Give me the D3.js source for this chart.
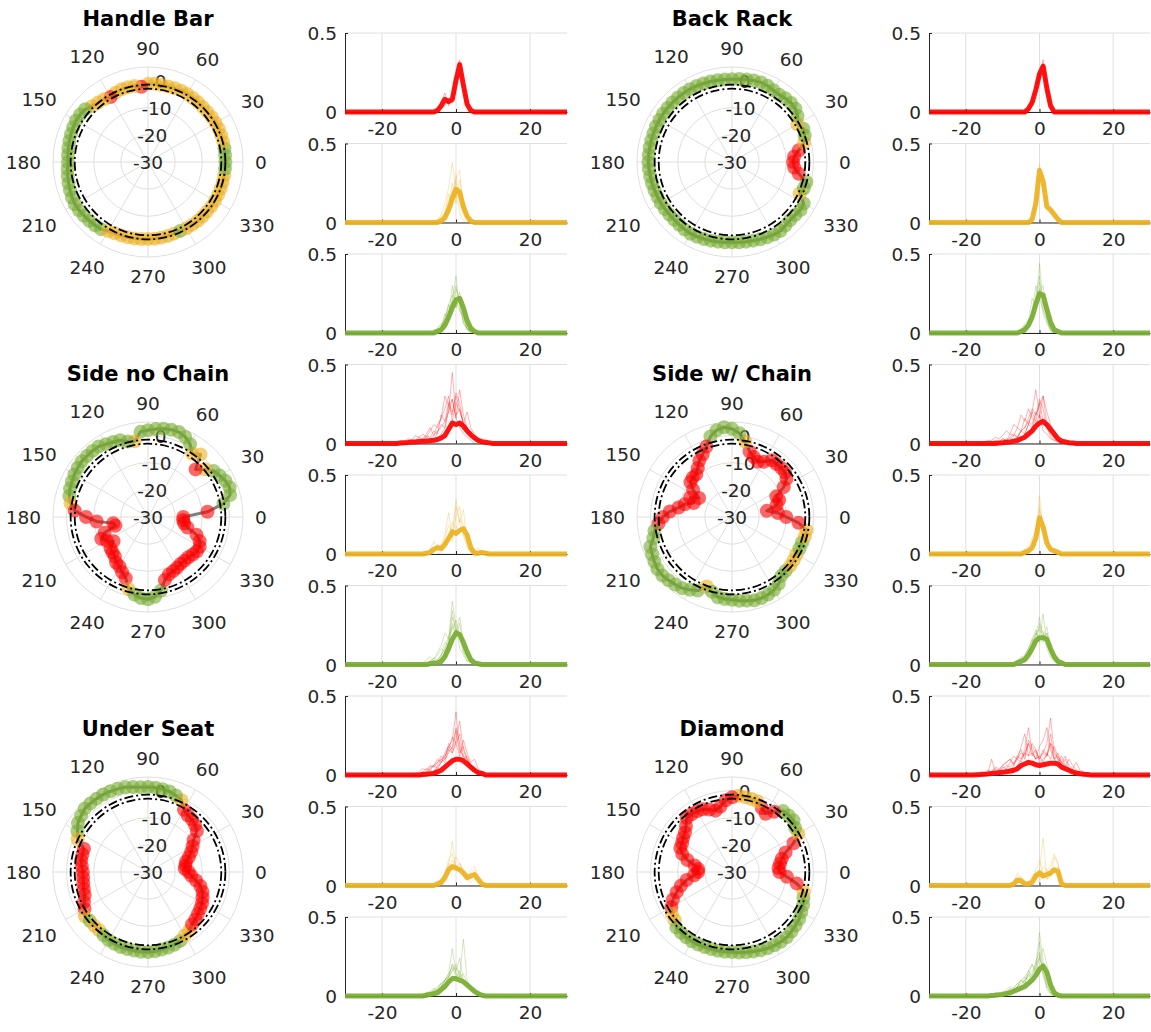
<!DOCTYPE html>
<html><head><meta charset="utf-8">
<script src="https://cdn.jsdelivr.net/npm/d3@7"></script>
<style>body{margin:0;background:#fff}svg{display:block}text{font-family:"DejaVu Sans",sans-serif}</style>
</head><body><svg id="c" width="1151" height="1032"></svg>
<script>
// ---------------- data ----------------
const titles = ["Handle Bar","Back Rack","Side no Chain","Side w/ Chain","Under Seat","Diamond"];
const angles = [0,5,10,15,20,25,30,35,40,45,50,55,60,65,70,75,80,85,90,95,100,105,110,115,120,125,130,135,140,145,150,155,160,165,170,175,180,185,190,195,200,205,210,215,220,225,230,235,240,245,250,255,260,265,270,275,280,285,290,295,300,305,310,315,320,325,330,335,340,345,350,355];
const angleTicks = [0,30,60,90,120,150,180,210,240,270,300,330];
const ringTicks = [-30,-20,-10,0];
const refLevels = [-3,-1.5];
const histXTicks = [-20,0,20];
const histYTicks = [0,0.5];
const classKeys = ["r","y","g"];
const classColors = {r:"#ff0000", y:"#edb120", g:"#77ac30"};

const handleBarDb = [-1.5,-1.5,-1.4,-1.3,-1.3,-1.2,-1.2,-1.3,-1.4,-1.4,
 -1.3,-1.2,-1.1,-1.0,-1.1,-1.2,-1.2,-1.1,-1.2,-2.2,
 -1.6,-1.5,-1.5,-1.8,-2.4,-1.8,-1.4,-0.9,0.2,0.5,
 0.6,0.4,0.2,0.0,-0.2,-0.4,-0.5,-0.3,0.0,0.3,
 0.6,0.9,1.1,1.0,0.8,0.6,0.4,0.2,-0.6,-1.0,
 -1.2,-1.3,-1.4,-1.5,-1.6,-1.6,-1.7,-1.8,-1.9,-2.0,
 -1.8,-1.7,-1.6,-1.6,-1.6,-1.5,-1.5,-1.5,-1.5,-1.5,
 -1.5,-1.5];
const handleBarCls = "ggg"+"yyyyyyyyyyyyyyyy"+"r"+"yyyy"+"r"+"yyy"+"gggggggggggggggggggg"+"yyyyyyyyyyy"+"g"+"yyyyyyyyyyy"+"g";

const backRackDb = [-7.5,-7.0,-5.0,-2.5,-1.5,-1.0,-2.2,-0.5,0.5,0.8,
 0.6,0.3,0.5,1.0,1.2,1.1,0.9,0.7,0.5,0.5,
 0.6,0.7,0.8,0.9,1.0,1.0,1.0,1.0,1.0,1.0,
 0.9,0.9,0.8,0.8,0.8,0.8,0.8,0.7,0.6,0.5,
 0.4,0.3,0.3,0.2,0.1,0.1,0.2,0.4,0.5,0.4,
 0.2,0.0,-0.2,-0.3,-0.4,-0.3,-0.2,0.0,0.3,0.6,
 0.9,1.0,0.6,0.3,0.4,0.8,0.5,-2.5,-1.8,-1.6,
 -5.0,-7.0];
const backRackCls = "rrr"+"y"+"gg"+"y"+"gggggggggggggggggggggggggggggggggggggggggggggggggggggggggggg"+"y"+"gg"+"rr";

const sideNoChainDb = [-17,-8,-1.8,1.3,2.0,1.5,0.5,-0.5,-2.6,-5.2,
 0.1,-1.6,1.0,2.5,3.3,3.3,3.0,2.5,2.0,1.5,
 -1.7,-1.2,0.1,0.5,1.0,1.7,1.8,1.8,1.9,1.6,
 1.3,0.9,0.6,0.0,-1.0,-2.9,-7.2,-11,-17,-17.5,
 -13,-11,-12.5,-14.5,-12,-11.5,-11,-9.5,-9,-7.5,
 -6,-2.5,-1.0,0.0,0.3,-0.5,-2.5,-6,-7.5,-8,
 -8.5,-9,-9,-9,-8.5,-8,-8,-9,-11,-15,
 -16.5,-17];
const sideNoChainCls = "rr"+"gggggg"+"y"+"r"+"yy"+"gggggggg"+"y"+"ggggggggggggg"+"y"+"rrrrrrrrrrrrrrrr"+"y"+"ggggg"+"rrrrrrrrrrrrrrr";

const sideChainDb = [-10,-13,-17,-13,-11.5,-12,-8,-5.5,-4.5,-4.4,
 -4.5,-4.5,-6.5,-7.5,-6.5,-5,-1.8,1,2.5,3.2,
 2.5,0.7,-2.4,-4.5,-6,-8,-9.5,-9.5,-10,-12.5,
 -16,-13,-15,-12,-10,-7,-4.5,-2.8,-1,0,
 2,2.5,3,3.5,3.5,3,2.5,2,1,-0.1,
 -2.8,-1.5,0,0.3,0.5,1,1.3,1.8,1.8,1.5,
 1,0,-1.7,-2,-2,-2.3,-2.6,-2.6,-2.6,-2.3,
 -2.1,-5.4];
const sideChainCls = "rrrrrrrrrrrrrrrr"+"y"+"ggggg"+"rrrrrrrrrrrrrrrr"+"gggggggggggg"+"y"+"ggggggggggggg"+"yyy"+"gg"+"yy"+"r";

const underSeatDb = [-15,-16.4,-16,-15.5,-14,-12.5,-11,-9.5,-6.5,-5.5,
 -4.8,-4.5,-3.5,-0.8,0,0.7,1,1.2,1.3,1.3,
 1.8,2.3,2.6,2.8,3,3,3,3,2.2,1.5,
 0,-1.4,-4.9,-5,-5,-5.5,-6,-6,-5.8,-5.5,
 -5.2,-4,-3,-1.6,-2,-2,-2,-1.5,-1,-0.8,
 -0.6,-0.6,-0.6,-0.5,-0.5,-0.7,-1,-1.2,-1.5,-2,
 -3,-3.6,-4.8,-5.3,-6,-6.5,-7,-7.8,-8.6,-10,
 -12,-14];
const underSeatCls = "rrrrrrrrrrrrr"+"y"+"ggggggggggggggggg"+"y"+"rrrrrrrrrrr"+"y"+"g"+"yy"+"ggggggggggggg"+"yy"+"rrrrrrrrrr";

const diamondDb = [-12.5,-12.8,-12,-11,-9,-5,-1.8,-1.6,-0.4,-0.5,
 -0.7,-2.9,-5.2,-4,-2.4,-2.2,-2,-1.8,-2.5,-3.5,
 -5.5,-6.6,-5.5,-4.5,-4.2,-4,-4,-6,-7.4,-8,
 -8.8,-9,-10.5,-13,-16,-17.5,-17.5,-16,-13,-10.5,
 -8.3,-6,-4.2,-3,-2.5,-1,-0.8,-0.6,-0.5,-0.5,
 -0.6,-0.6,-0.5,-0.5,-0.5,-0.2,0,0.3,0.7,1,
 1.2,1.4,1.4,1,0.6,0.2,-0.5,-1.1,-2,-2.7,
 -5.8,-9.7];
const diamondCls = "rrrrrr"+"y"+"gggg"+"rrr"+"yyyy"+"rrrrrrrrrrrrrrrrrrrrrrrrr"+"yy"+"gggggggggggggggggggggggg"+"y"+"rr";

// histogram mean curves (s = first x value, v = values at x = s, s+1, ...)
const hbRedMean = {s:-6, v:[0,0.01,0.04,0.08,0.065,0.08,0.2,0.3,0.17,0.05,0.01,0]};
const hbYelMean = {s:-5, v:[0,0.01,0.03,0.08,0.15,0.21,0.19,0.1,0.04,0.01,0]};
const hbGrnMean = {s:-6, v:[0,0.01,0.02,0.05,0.1,0.16,0.21,0.22,0.16,0.08,0.03,0.01,0]};
const brRedMean = {s:-4, v:[0,0.02,0.06,0.14,0.24,0.29,0.15,0.04,0]};
const brYelMean = {s:-3, v:[0,0.02,0.12,0.33,0.26,0.1,0.08,0.05,0.02,0]};
const brGrnMean = {s:-6, v:[0,0.01,0.02,0.05,0.1,0.18,0.25,0.24,0.15,0.07,0.02,0.01,0]};
const sncRedMean = {s:-16, v:[0,0.003,0.005,0.007,0.01,0.01,0.012,0.014,0.016,0.018,0.02,0.025,0.035,0.05,0.09,0.13,0.12,0.13,0.11,0.08,0.055,0.035,0.02,0.012,0.008,0.004,0]};
const sncYelMean = {s:-9, v:[0,0.005,0.01,0.03,0.04,0.035,0.06,0.1,0.14,0.13,0.15,0.16,0.12,0.04,0.005,0.005,0.01,0.005,0]};
const sncGrnMean = {s:-8, v:[0,0.005,0.01,0.01,0.02,0.05,0.1,0.16,0.2,0.19,0.14,0.08,0.03,0.01,0.005,0]};
const swcRedMean = {s:-12, v:[0,0.003,0.005,0.008,0.01,0.015,0.02,0.03,0.04,0.06,0.08,0.11,0.13,0.14,0.12,0.09,0.06,0.03,0.015,0.01,0.005,0.003,0]};
const swcYelMean = {s:-5, v:[0,0.01,0.02,0.04,0.1,0.23,0.17,0.07,0.03,0.02,0.01,0]};
const swcGrnMean = {s:-7, v:[0,0.01,0.02,0.03,0.06,0.1,0.15,0.17,0.17,0.16,0.1,0.05,0.02,0.01,0]};
const usRedMean = {s:-10, v:[0,0.003,0.005,0.008,0.01,0.02,0.03,0.05,0.07,0.09,0.1,0.1,0.09,0.07,0.05,0.03,0.015,0.01,0]};
const usYelMean = {s:-6, v:[0,0.01,0.02,0.05,0.1,0.12,0.11,0.1,0.08,0.05,0.06,0.07,0.04,0.01,0]};
const usGrnMean = {s:-9, v:[0,0.005,0.01,0.015,0.02,0.04,0.06,0.09,0.11,0.11,0.1,0.09,0.07,0.05,0.03,0.015,0.005,0]};
const dRedMean = {s:-18, v:[0,0.002,0.003,0.005,0.007,0.01,0.012,0.015,0.018,0.02,0.025,0.03,0.04,0.06,0.07,0.08,0.075,0.065,0.06,0.065,0.07,0.075,0.075,0.07,0.05,0.04,0.03,0.02,0.012,0.008,0.005,0.003,0]};
const dYelMean = {s:-8, v:[0,0.01,0.035,0.03,0.01,0.01,0.02,0.06,0.08,0.06,0.07,0.08,0.1,0.09,0.01,0]};
const dGrnMean = {s:-14, v:[0,0.003,0.005,0.008,0.01,0.015,0.02,0.03,0.04,0.05,0.06,0.08,0.1,0.13,0.17,0.19,0.15,0.07,0.02,0.005,0]};

// a few of the individual (thin) curves per panel
const hbRedThin = [
 {s:-5,v:[0,0.07,0.12,0.04,0.1,0.24,0.33,0.15,0.03,0]},
 {s:-5,v:[0.02,0.02,0.04,0.09,0.06,0.16,0.27,0.19,0.07,0.01]}];
const hbYelThin = [
 {s:-6,v:[0,0.02,0.05,0.12,0.22,0.38,0.2,0.06,0.01,0.01,0]},
 {s:-5,v:[0.01,0.03,0.06,0.18,0.1,0.3,0.15,0.08,0.02,0]},
 {s:-6,v:[0.01,0.02,0.04,0.06,0.14,0.2,0.26,0.12,0.05,0.02,0]},
 {s:-4,v:[0,0.04,0.1,0.14,0.28,0.33,0.07,0.03,0]},
 {s:-4,v:[0.02,0.05,0.09,0.2,0.16,0.22,0.1,0.04,0]},
 {s:-5,v:[0,0.01,0.02,0.1,0.25,0.12,0.27,0.14,0.03,0]}];
const hbGrnThin = [
 {s:-7,v:[0,0.01,0.03,0.05,0.09,0.16,0.2,0.3,0.18,0.06,0.03,0.01,0]},
 {s:-6,v:[0.02,0.02,0.04,0.12,0.08,0.22,0.36,0.14,0.1,0.02,0.01,0]},
 {s:-6,v:[0,0.03,0.06,0.05,0.14,0.2,0.16,0.26,0.12,0.04,0.02,0]},
 {s:-5,v:[0.01,0.03,0.08,0.18,0.12,0.28,0.2,0.06,0.03,0]},
 {s:-7,v:[0,0.02,0.01,0.04,0.1,0.18,0.24,0.2,0.14,0.1,0.03,0.01,0]},
 {s:-5,v:[0,0.02,0.06,0.1,0.3,0.16,0.22,0.08,0.02,0]}];
const brRedThin = [
 {s:-4,v:[0,0.03,0.05,0.16,0.22,0.33,0.12,0.03,0]},
 {s:-4,v:[0.01,0.02,0.08,0.12,0.27,0.25,0.18,0.05,0]},
 {s:-4,v:[0,0.01,0.05,0.14,0.23,0.3,0.15,0.04,0]}];
const brYelThin = [
 {s:-3,v:[0,0.03,0.14,0.37,0.22,0.08,0.1,0.04,0.02,0]},
 {s:-3,v:[0,0.01,0.1,0.29,0.3,0.12,0.06,0.06,0.02,0]}];
const brGrnThin = [
 {s:-6,v:[0,0.01,0.03,0.06,0.12,0.2,0.32,0.2,0.1,0.05,0.02,0]},
 {s:-5,v:[0.02,0.03,0.04,0.14,0.16,0.44,0.18,0.12,0.04,0.01,0]},
 {s:-7,v:[0,0.01,0.02,0.06,0.08,0.22,0.18,0.28,0.12,0.06,0.02,0]},
 {s:-5,v:[0,0.04,0.06,0.1,0.2,0.26,0.3,0.1,0.02,0]},
 {s:-6,v:[0.01,0.02,0.05,0.03,0.14,0.3,0.22,0.14,0.08,0.02,0.01,0]},
 {s:-4,v:[0.01,0.08,0.12,0.24,0.36,0.16,0.08,0.01,0]}];
const sncRedThin = [
 {s:-14,v:[0,0.01,0.02,0.01,0.03,0.02,0.04,0.03,0.05,0.08,0.1,0.14,0.2,0.45,0.18,0.22,0.12,0.08,0.04,0.02,0.01,0]},
 {s:-12,v:[0,0.02,0.04,0.03,0.06,0.1,0.05,0.12,0.16,0.3,0.24,0.28,0.16,0.1,0.06,0.04,0.02,0]},
 {s:-10,v:[0.01,0.02,0.05,0.04,0.08,0.06,0.18,0.14,0.26,0.2,0.3,0.22,0.12,0.06,0.08,0.03,0.02,0.01,0]},
 {s:-8,v:[0,0.03,0.02,0.07,0.12,0.1,0.2,0.28,0.16,0.34,0.18,0.1,0.05,0.03,0.02,0]},
 {s:-16,v:[0,0.02,0.01,0.03,0.02,0.05,0.04,0.06,0.04,0.08,0.12,0.1,0.16,0.22,0.3,0.14,0.26,0.2,0.14,0.1,0.06,0.03,0.01,0]},
 {s:-6,v:[0,0.04,0.06,0.1,0.24,0.18,0.32,0.26,0.12,0.2,0.1,0.06,0.03,0.01,0]}];
const sncYelThin = [
 {s:-7,v:[0,0.02,0.06,0.04,0.1,0.18,0.14,0.34,0.2,0.28,0.08,0.02,0.01,0.04,0]},
 {s:-8,v:[0,0.03,0.08,0.02,0.06,0.12,0.26,0.1,0.3,0.2,0.12,0.06,0.01,0]},
 {s:-6,v:[0.02,0.06,0.02,0.04,0.1,0.2,0.16,0.22,0.18,0.14,0.02,0.01,0.02,0.01,0]},
 {s:-5,v:[0,0.01,0.06,0.12,0.08,0.24,0.3,0.12,0.04,0.01,0]}];
const sncGrnThin = [
 {s:-8,v:[0,0.02,0.04,0.03,0.06,0.1,0.16,0.22,0.28,0.18,0.12,0.06,0.02,0.01,0]},
 {s:-10,v:[0,0.01,0.03,0.05,0.02,0.08,0.12,0.2,0.16,0.4,0.24,0.1,0.06,0.02,0.01,0]},
 {s:-7,v:[0.01,0.02,0.01,0.06,0.14,0.12,0.26,0.2,0.3,0.14,0.06,0.04,0.02,0]},
 {s:-6,v:[0,0.03,0.06,0.1,0.18,0.24,0.18,0.26,0.1,0.05,0.02,0.03,0]},
 {s:-9,v:[0,0.01,0.02,0.04,0.06,0.1,0.08,0.14,0.34,0.2,0.16,0.08,0.04,0.01,0]},
 {s:-5,v:[0.02,0.04,0.08,0.14,0.3,0.22,0.2,0.08,0.02,0.06,0.01,0]}];
const swcRedThin = [
 {s:-14,v:[0,0.01,0.02,0.01,0.03,0.02,0.04,0.06,0.04,0.08,0.1,0.14,0.12,0.2,0.16,0.3,0.2,0.12,0.08,0.05,0.03,0.02,0]},
 {s:-10,v:[0,0.02,0.03,0.05,0.04,0.08,0.1,0.16,0.22,0.18,0.26,0.14,0.1,0.06,0.03,0.02,0.01,0]},
 {s:-12,v:[0.01,0.01,0.03,0.02,0.06,0.05,0.1,0.08,0.16,0.12,0.2,0.34,0.18,0.12,0.1,0.04,0.02,0.01,0]},
 {s:-8,v:[0,0.02,0.04,0.08,0.06,0.12,0.2,0.14,0.28,0.22,0.1,0.08,0.04,0.02,0]},
 {s:-16,v:[0,0.01,0.02,0.02,0.04,0.03,0.05,0.08,0.06,0.12,0.1,0.18,0.14,0.22,0.16,0.12,0.18,0.08,0.06,0.03,0.02,0.01,0]},
 {s:-6,v:[0,0.03,0.06,0.12,0.1,0.18,0.24,0.3,0.12,0.08,0.05,0.02,0.01,0]}];
const swcYelThin = [
 {s:-5,v:[0,0.02,0.03,0.06,0.12,0.37,0.14,0.06,0.02,0.01,0]},
 {s:-6,v:[0,0.01,0.03,0.05,0.1,0.14,0.28,0.2,0.04,0.04,0.03,0.02,0]},
 {s:-4,v:[0.01,0.02,0.03,0.08,0.2,0.16,0.1,0.04,0.02,0.01,0]},
 {s:-5,v:[0,0.01,0.01,0.02,0.06,0.3,0.18,0.08,0.03,0.01,0]}];
const swcGrnThin = [
 {s:-8,v:[0,0.01,0.02,0.04,0.06,0.1,0.14,0.2,0.22,0.18,0.24,0.1,0.05,0.02,0.01,0]},
 {s:-7,v:[0,0.02,0.04,0.03,0.08,0.12,0.18,0.3,0.14,0.2,0.08,0.06,0.02,0.01,0]},
 {s:-9,v:[0,0.01,0.01,0.03,0.05,0.04,0.1,0.16,0.12,0.26,0.2,0.14,0.1,0.04,0.02,0.01,0]},
 {s:-6,v:[0.01,0.03,0.06,0.1,0.16,0.22,0.14,0.16,0.2,0.08,0.03,0.01,0]},
 {s:-7,v:[0,0.01,0.03,0.05,0.08,0.14,0.2,0.16,0.32,0.12,0.06,0.02,0.01,0]},
 {s:-5,v:[0.02,0.02,0.06,0.12,0.18,0.24,0.2,0.1,0.04,0.02,0]}];
const usRedThin = [
 {s:-12,v:[0,0.01,0.02,0.04,0.03,0.06,0.05,0.08,0.1,0.12,0.16,0.14,0.2,0.26,0.12,0.1,0.06,0.04,0.02,0.01,0]},
 {s:-10,v:[0,0.02,0.04,0.03,0.06,0.1,0.08,0.14,0.18,0.22,0.4,0.16,0.12,0.08,0.05,0.03,0.01,0]},
 {s:-9,v:[0.01,0.02,0.05,0.06,0.08,0.12,0.1,0.2,0.16,0.28,0.14,0.18,0.1,0.06,0.03,0.02,0.01,0]},
 {s:-8,v:[0,0.03,0.02,0.06,0.1,0.08,0.16,0.24,0.2,0.12,0.22,0.14,0.08,0.1,0.04,0.02,0]},
 {s:-11,v:[0,0.01,0.02,0.02,0.04,0.06,0.04,0.08,0.1,0.14,0.18,0.3,0.2,0.1,0.12,0.06,0.04,0.02,0]},
 {s:-7,v:[0,0.02,0.05,0.08,0.12,0.18,0.14,0.22,0.34,0.16,0.1,0.06,0.04,0.02,0]}];
const usYelThin = [
 {s:-6,v:[0,0.02,0.04,0.08,0.16,0.2,0.12,0.1,0.06,0.04,0.08,0.1,0.04,0.01,0]},
 {s:-5,v:[0.02,0.03,0.06,0.14,0.1,0.18,0.14,0.08,0.06,0.1,0.12,0.06,0.02,0]},
 {s:-7,v:[0,0.01,0.02,0.03,0.06,0.12,0.28,0.1,0.14,0.08,0.04,0.02,0.04,0.02,0.01,0]},
 {s:-4,v:[0,0.04,0.1,0.16,0.12,0.14,0.1,0.06,0.04,0.08,0.02,0.01,0]}];
const usGrnThin = [
 {s:-10,v:[0,0.01,0.02,0.02,0.04,0.03,0.06,0.1,0.12,0.16,0.18,0.14,0.1,0.08,0.05,0.03,0.02,0.01,0]},
 {s:-9,v:[0,0.02,0.01,0.04,0.06,0.08,0.1,0.14,0.3,0.14,0.12,0.1,0.06,0.04,0.02,0.01,0]},
 {s:-8,v:[0.01,0.02,0.03,0.05,0.08,0.06,0.12,0.2,0.16,0.24,0.1,0.08,0.06,0.03,0.02,0]},
 {s:-11,v:[0,0.01,0.01,0.02,0.03,0.05,0.04,0.08,0.1,0.12,0.16,0.2,0.12,0.14,0.08,0.05,0.03,0.02,0.01,0]},
 {s:-7,v:[0,0.03,0.04,0.06,0.1,0.12,0.2,0.14,0.12,0.36,0.1,0.06,0.04,0.02,0]},
 {s:-6,v:[0.02,0.04,0.06,0.1,0.14,0.18,0.12,0.16,0.08,0.06,0.03,0.01,0]}];
const dRedThin = [
 {s:-16,v:[0,0.01,0.02,0.1,0.02,0.03,0.04,0.06,0.05,0.08,0.1,0.14,0.12,0.2,0.16,0.1,0.12,0.14,0.2,0.36,0.14,0.1,0.08,0.06,0.04,0.02,0.01,0]},
 {s:-14,v:[0,0.02,0.04,0.03,0.06,0.08,0.1,0.07,0.12,0.16,0.1,0.22,0.18,0.14,0.1,0.16,0.12,0.2,0.1,0.14,0.08,0.12,0.06,0.04,0.08,0.03,0.02,0.01,0]},
 {s:-12,v:[0,0.03,0.05,0.04,0.08,0.12,0.1,0.18,0.26,0.12,0.14,0.1,0.18,0.22,0.3,0.16,0.1,0.12,0.06,0.05,0.03,0.02,0]},
 {s:-10,v:[0.01,0.04,0.02,0.06,0.1,0.08,0.14,0.2,0.12,0.16,0.08,0.1,0.12,0.2,0.16,0.1,0.06,0.1,0.04,0.02,0.01,0]},
 {s:-18,v:[0,0.01,0.02,0.01,0.03,0.02,0.05,0.04,0.06,0.08,0.1,0.06,0.12,0.1,0.16,0.3,0.14,0.1,0.12,0.08,0.14,0.1,0.18,0.12,0.08,0.05,0.1,0.06,0.03,0.02,0.01,0]},
 {s:-8,v:[0,0.02,0.06,0.1,0.14,0.12,0.2,0.16,0.1,0.14,0.12,0.26,0.1,0.08,0.12,0.06,0.04,0.02,0.01,0]}];
const dYelThin = [
 {s:-8,v:[0,0.02,0.08,0.04,0.02,0.01,0.04,0.1,0.16,0.06,0.1,0.12,0.2,0.14,0.02,0]},
 {s:-8,v:[0,0.01,0.03,0.06,0.01,0.02,0.01,0.04,0.1,0.3,0.04,0.06,0.08,0.12,0.01,0]},
 {s:-7,v:[0.02,0.04,0.02,0.01,0.02,0.06,0.08,0.04,0.12,0.1,0.06,0.1,0.06,0.01,0]},
 {s:-6,v:[0,0.02,0.01,0.02,0.03,0.04,0.02,0.08,0.04,0.06,0.18,0.14,0.02,0]}];
const dGrnThin = [
 {s:-14,v:[0,0.01,0.02,0.01,0.02,0.03,0.04,0.03,0.06,0.08,0.1,0.12,0.16,0.2,0.24,0.3,0.2,0.1,0.04,0.01,0]},
 {s:-12,v:[0,0.01,0.02,0.04,0.06,0.05,0.08,0.1,0.12,0.1,0.14,0.18,0.4,0.22,0.1,0.04,0.02,0]},
 {s:-13,v:[0.01,0.02,0.01,0.03,0.02,0.05,0.04,0.06,0.1,0.08,0.14,0.2,0.16,0.26,0.14,0.08,0.02,0.01,0]},
 {s:-10,v:[0,0.02,0.04,0.03,0.06,0.1,0.08,0.16,0.12,0.22,0.28,0.12,0.06,0.02,0]},
 {s:-9,v:[0.01,0.03,0.02,0.06,0.04,0.1,0.14,0.1,0.18,0.34,0.16,0.04,0.01,0]},
 {s:-11,v:[0,0.01,0.03,0.02,0.05,0.08,0.06,0.12,0.16,0.2,0.14,0.24,0.18,0.06,0.02,0.01,0]}];

const plots = [
 {title:titles[0], db:handleBarDb, cls:handleBarCls, hist:[[hbRedMean,hbRedThin],[hbYelMean,hbYelThin],[hbGrnMean,hbGrnThin]]},
 {title:titles[1], db:backRackDb, cls:backRackCls, hist:[[brRedMean,brRedThin],[brYelMean,brYelThin],[brGrnMean,brGrnThin]]},
 {title:titles[2], db:sideNoChainDb, cls:sideNoChainCls, hist:[[sncRedMean,sncRedThin],[sncYelMean,sncYelThin],[sncGrnMean,sncGrnThin]]},
 {title:titles[3], db:sideChainDb, cls:sideChainCls, hist:[[swcRedMean,swcRedThin],[swcYelMean,swcYelThin],[swcGrnMean,swcGrnThin]]},
 {title:titles[4], db:underSeatDb, cls:underSeatCls, hist:[[usRedMean,usRedThin],[usYelMean,usYelThin],[usGrnMean,usGrnThin]]},
 {title:titles[5], db:diamondDb, cls:diamondCls, hist:[[dRedMean,dRedThin],[dYelMean,dYelThin],[dGrnMean,dGrnThin]]}
];

// ---------------- layout ----------------
const svg = d3.select("#c");
const TXT = "#262626", GRID = "#dfdfdf";
const FS = "18.5px";
const polarCx = [148, 732], polarCy = [162, 517, 872];
const polarR = d3.scaleLinear().domain([-30, 5]).range([0, 95]);
const rLabelAngle = 81;
const histLeft = [345, 929], histRight = [567, 1150];
const histTop0 = 33, histStep = 110.5, histH = 79;
const rad = a => a * Math.PI / 180;

function drawPolar(p, cx, cy) {
  const g = svg.append("g").attr("transform", `translate(${cx},${cy})`);
  const R = polarR(5);
  g.selectAll("circle.ring").data(ringTicks.filter(t => polarR(t) > 0.5).concat([5]))
    .join("circle").attr("class","ring").attr("r", d => polarR(d))
    .attr("fill","none").attr("stroke",GRID).attr("stroke-width",1);
  g.selectAll("line.spoke").data(angleTicks).join("line").attr("class","spoke")
    .attr("x1",0).attr("y1",0)
    .attr("x2", d => d3.pointRadial(rad(90-d), R)[0])
    .attr("y2", d => d3.pointRadial(rad(90-d), R)[1])
    .attr("stroke",GRID).attr("stroke-width",1);
  // angle labels
  g.selectAll("text.ang").data(angleTicks).join("text").attr("class","ang")
    .attr("font-size",FS).attr("fill",TXT).attr("text-anchor","middle").attr("dy","0.36em")
    .text(d => String(d))
    .each(function(d) {
      const w = this.getComputedTextLength();
      const c = Math.abs(Math.cos(rad(d))), s = Math.abs(Math.sin(rad(d)));
      const dist = 107 + c * w / 2 + s * 7;
      const [x, y] = d3.pointRadial(rad(90-d), dist);
      d3.select(this).attr("x", x).attr("y", y);
    });
  // radial labels
  g.selectAll("text.rl").data(ringTicks).join("text").attr("class","rl")
    .attr("font-size",FS).attr("fill",TXT).attr("text-anchor","middle").attr("dy","0.36em")
    .attr("x", d => d3.pointRadial(rad(90-rLabelAngle), polarR(d))[0])
    .attr("y", d => d3.pointRadial(rad(90-rLabelAngle), polarR(d))[1])
    .text(d => String(d));
  // data
  const pts = p.db.map((v, j) => ({a: angles[j], r: polarR(v), c: p.cls[j]}));
  const line = d3.lineRadial().angle(d => rad(90 - d.a)).radius(d => d.r).curve(d3.curveLinearClosed);
  g.append("path").attr("d", line(pts)).attr("fill","none").attr("stroke","#555")
    .attr("stroke-width",3).attr("opacity",0.75).attr("stroke-linejoin","round");
  g.selectAll("circle.pt").data(pts).join("circle").attr("class","pt")
    .attr("cx", d => d3.pointRadial(rad(90-d.a), d.r)[0])
    .attr("cy", d => d3.pointRadial(rad(90-d.a), d.r)[1])
    .attr("r", 7).attr("fill", d => classColors[d.c]).attr("fill-opacity", 0.6);
  // reference dash-dot circles
  g.selectAll("circle.ref").data(refLevels).join("circle").attr("class","ref")
    .attr("r", d => polarR(d)).attr("fill","none").attr("stroke","#000")
    .attr("stroke-width",1.8).attr("stroke-dasharray","9,3,2,3");
  // title
  g.append("text").attr("x",0).attr("y",-136).attr("text-anchor","middle")
    .attr("font-size","21px").attr("font-weight","bold").attr("fill","#000").text(p.title);
}

function drawHist(k, col, mean, thins, key) {
  const color = classColors[key];
  const top = histTop0 + histStep * k, bot = top + histH;
  const x = d3.scaleLinear().domain([-30, 30]).range([histLeft[col], histRight[col]]);
  const y = d3.scaleLinear().domain([0, 0.5]).range([bot, top]);
  const g = svg.append("g");
  g.selectAll("line.gx").data(histXTicks).join("line").attr("class","gx")
    .attr("x1", d => x(d)).attr("x2", d => x(d)).attr("y1", top).attr("y2", bot)
    .attr("stroke", GRID).attr("stroke-width", 1);
  g.selectAll("line.gy").data(histYTicks).join("line").attr("class","gy")
    .attr("x1", x(-30)).attr("x2", x(30)).attr("y1", d => y(d)).attr("y2", d => y(d))
    .attr("stroke", GRID).attr("stroke-width", 1);
  const ln = d3.line().x(d => x(d[0])).y(d => y(d[1]));
  thins.forEach(t => {
    g.append("path").attr("d", ln(t.v.map((v, i) => [t.s + i, v])))
      .attr("fill","none").attr("stroke",color).attr("stroke-width",1).attr("opacity",0.3);
  });
  const ax = g.append("g").attr("transform", `translate(0,${bot})`)
    .call(d3.axisBottom(x).tickValues(histXTicks).tickSizeInner(-3).tickSizeOuter(0).tickPadding(10).tickFormat(d => String(d)));
  const ay = g.append("g").attr("transform", `translate(${x(-30)},0)`)
    .call(d3.axisLeft(y).tickValues(histYTicks).tickSizeInner(-3).tickSizeOuter(0).tickPadding(8).tickFormat(d => String(d)));
  [ax, ay].forEach(a => {
    a.select("path.domain").attr("stroke", TXT);
    a.selectAll(".tick line").attr("stroke", TXT);
    a.selectAll(".tick text").attr("fill", TXT).attr("font-size", FS).attr("font-family", '"DejaVu Sans", sans-serif');
  });
  ay.selectAll(".tick text").attr("dy","0.36em");
  // mean (thick) curve over the whole x range
  const full = [];
  for (let xv = -30; xv <= 30; xv++) {
    const j = xv - mean.s;
    full.push([xv, (j >= 0 && j < mean.v.length) ? mean.v[j] : 0]);
  }
  g.append("path").attr("d", ln(full)).attr("fill","none").attr("stroke",color)
    .attr("stroke-width",5).attr("stroke-linejoin","round").attr("opacity",0.92);
}

plots.forEach((p, i) => {
  const col = i % 2, row = Math.floor(i / 2);
  drawPolar(p, polarCx[col], polarCy[row]);
  p.hist.forEach((h, c) => drawHist(row * 3 + c, col, h[0], h[1], classKeys[c]));
});
</script></body></html>
